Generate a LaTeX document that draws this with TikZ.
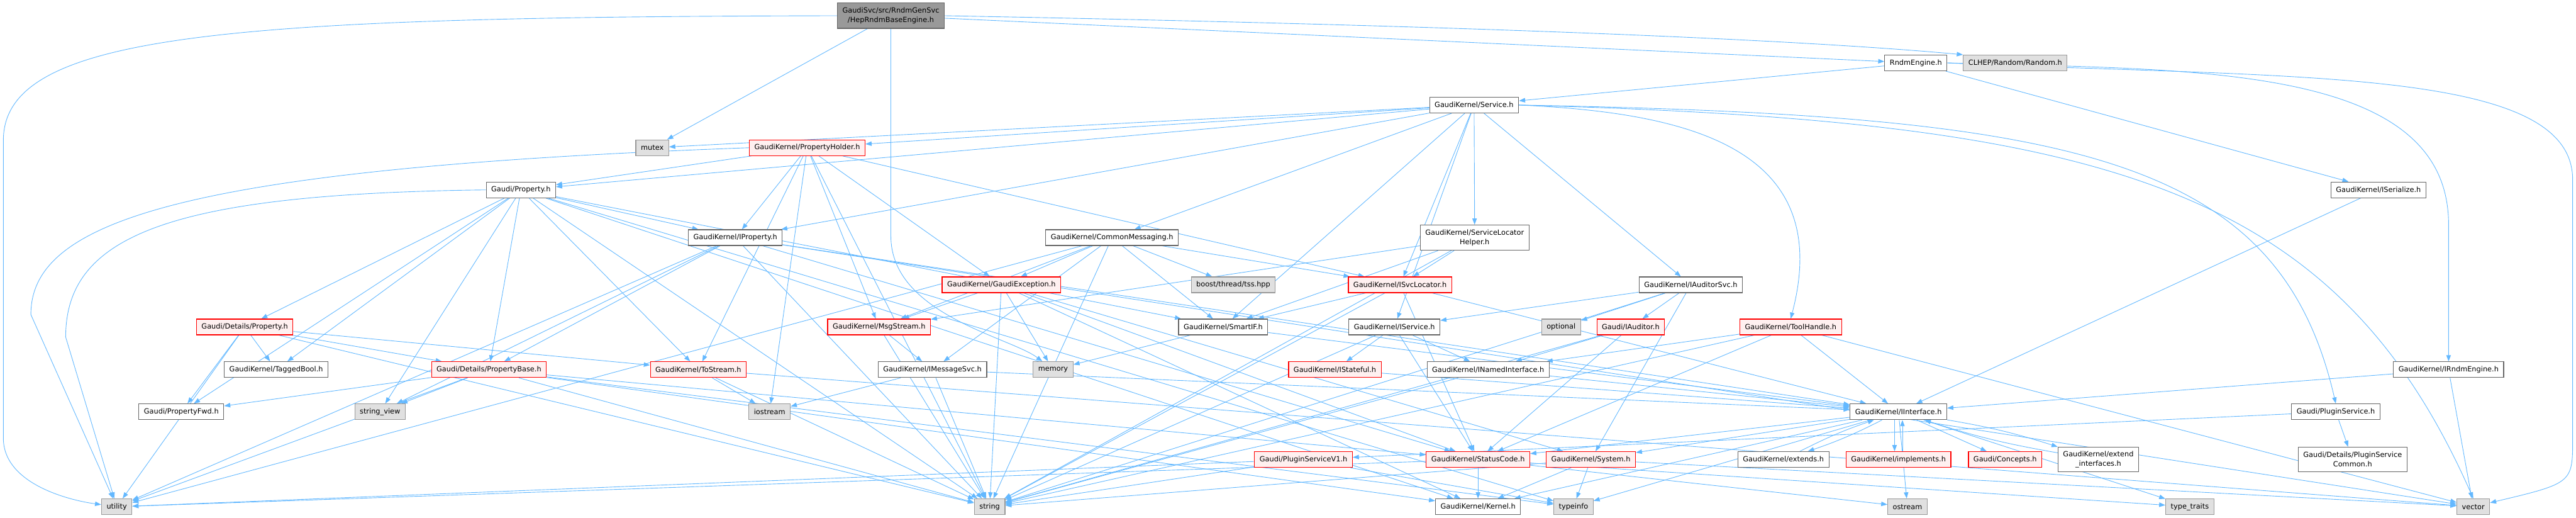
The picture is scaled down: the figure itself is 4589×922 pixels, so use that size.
\documentclass[tikz,border=0pt]{standalone}
\usepackage{fontspec}
\setmainfont{DejaVu Sans}
\usepackage{tikz}
\usetikzlibrary{arrows.meta,backgrounds}
\definecolor{depblue}{HTML}{63B8FF}
\definecolor{boxline}{HTML}{666666}
\definecolor{sysfill}{HTML}{E0E0E0}
\definecolor{sysline}{HTML}{999999}
\definecolor{truncfill}{HTML}{FFF0F0}
\definecolor{rootfill}{HTML}{999999}

\begin{document}
\begin{tikzpicture}[
  hdr/.style={draw=boxline, fill=white, line width=1.3pt, inner xsep=9pt, inner ysep=0pt, minimum height=28pt, font=\fontsize{12.7}{17}\selectfont, align=center},
  sys/.style={hdr, draw=sysline, fill=sysfill},
  trunc/.style={hdr, draw=red, fill=truncfill},
  top/.style={hdr, fill=rootfill, minimum height=45pt},
  dep/.style={draw=depblue, line width=1pt, -{Triangle[length=11pt,width=8pt]}},
  x=1pt, y=-1pt]
\useasboundingbox (0,0) rectangle (4589,922);
\node[top] (root) at (1587,28) {GaudiSvc/src/RndmGenSvc\\/HepRndmBaseEngine.h};
% level 1
\node[hdr] (rndmeng) at (3413,112) {RndmEngine.h};
\node[sys] (clhep)   at (3590,112) {CLHEP/Random/Random.h};
% level 2
\node[hdr] (service) at (2626,187) {GaudiKernel/Service.h};
% level 3
\node[sys]   (mutex)      at (1162,263) {mutex};
\node[trunc] (propholder) at (1438,263) {GaudiKernel/PropertyHolder.h};
\node[hdr]   (gprop)      at (928,338)  {Gaudi/Property.h};
\node[hdr]   (iserialize) at (4237,338) {GaudiKernel/ISerialize.h};
% level 4
\node[hdr] (iproperty) at (1310,423) {GaudiKernel/IProperty.h};
\node[hdr] (commsg)    at (1981,423) {GaudiKernel/CommonMessaging.h};
\node[hdr, minimum height=45pt] (svclochelp) at (2627,423) {GaudiKernel/ServiceLocator\\Helper.h};
% level 5
\node[trunc] (gexc)        at (1784,507) {GaudiKernel/GaudiException.h};
\node[sys]   (tss)         at (2197,507) {boost/thread/tss.hpp};
\node[trunc] (isvcloc)     at (2494,507) {GaudiKernel/ISvcLocator.h};
\node[hdr]   (iauditorsvc) at (3012,507) {GaudiKernel/IAuditorSvc.h};
% level 6
\node[trunc] (detprop)    at (436,582)  {Gaudi/Details/Property.h};
\node[trunc] (msgstream)  at (1566,582) {GaudiKernel/MsgStream.h};
\node[hdr]   (smartif)    at (2179,582) {GaudiKernel/SmartIF.h};
\node[hdr]   (iservice)   at (2484,582) {GaudiKernel/IService.h};
\node[sys]   (optional)   at (2781,582) {optional};
\node[trunc] (iauditor)   at (2905,582) {Gaudi/IAuditor.h};
\node[trunc] (toolhandle) at (3190,582) {GaudiKernel/ToolHandle.h};
% level 7
\node[hdr]   (taggedbool)  at (492,658)  {GaudiKernel/TaggedBool.h};
\node[trunc] (propbase)    at (871,658)  {Gaudi/Details/PropertyBase.h};
\node[trunc] (tostream)    at (1244,658) {GaudiKernel/ToStream.h};
\node[hdr]   (imsgsvc)     at (1661,658) {GaudiKernel/IMessageSvc.h};
\node[sys]   (memory)      at (1876,658) {memory};
\node[trunc] (istateful)   at (2378,658) {GaudiKernel/IStateful.h};
\node[hdr]   (inamed)      at (2651,658) {GaudiKernel/INamedInterface.h};
\node[hdr]   (irndmengine) at (4362,658) {GaudiKernel/IRndmEngine.h};
% level 8
\node[hdr] (propfwd)    at (323,733)  {Gaudi/PropertyFwd.h};
\node[sys] (stringview) at (677,733)  {string\_view};
\node[sys] (iostream)   at (1371,733) {iostream};
\node[hdr] (iinterface) at (3382,733) {GaudiKernel/IInterface.h};
\node[hdr] (pluginsvc)  at (4161,733) {Gaudi/PluginService.h};
% level 9
\node[trunc] (pluginsvcv1) at (2322,818) {Gaudi/PluginServiceV1.h};
\node[trunc] (statuscode)  at (2633,818) {GaudiKernel/StatusCode.h};
\node[trunc] (system)      at (2834,818) {GaudiKernel/System.h};
\node[hdr]   (extends)     at (3177,818) {GaudiKernel/extends.h};
\node[trunc] (implements)  at (3382,818) {GaudiKernel/implements.h};
\node[trunc] (concepts)    at (3572,818) {Gaudi/Concepts.h};
\node[hdr, minimum height=44pt] (extendif) at (3738,818) {GaudiKernel/extend\\\_interfaces.h};
\node[hdr, minimum height=44pt] (pscommon) at (4191,818) {Gaudi/Details/PluginService\\Common.h};
% level 10
\node[sys] (utility)    at (208,902)  {utility};
\node[sys] (string)     at (1763,902) {string};
\node[hdr] (kernel)     at (2633,902) {GaudiKernel/Kernel.h};
\node[sys] (typeinfo)   at (2803,902) {typeinfo};
\node[sys] (ostream)    at (3398,902) {ostream};
\node[sys] (typetraits) at (3901,902) {type\_traits};
\node[sys] (vector)     at (4406,902) {vector};
% edges
\begin{scope}[on background layer]
\foreach \n in {rndmeng,mutex} \draw[dep] (root) -- (\n);
\draw[dep] (root.east) .. controls (2600,45) and (3200,70) .. (clhep.north west);
\draw[dep] (root.south) -- (1587,420) .. controls (1587,560) and (1800,600) .. (memory);
\draw[dep] (root.west) .. controls (400,30) and (6,60) .. (6,250) -- (6,780) .. controls (6,860) and (120,890) .. (utility);
\foreach \n in {service,iserialize} \draw[dep] (rndmeng) -- (\n);
\draw[dep] (rndmeng.east) .. controls (3900,125) and (4362,110) .. (4362,400) -- (irndmengine);
\draw[dep] (rndmeng.east) .. controls (4100,140) and (4583,120) .. (4583,320) -- (4583,780) .. controls (4583,860) .. (vector);
\foreach \n in {mutex,propholder,gprop,iproperty,commsg,smartif,isvcloc,svclochelp,iservice,iauditorsvc}
  \draw[dep] (service) -- (\n);
\draw[dep] (service.east) .. controls (3000,200) and (3271,260) .. (toolhandle.north);
\draw[dep] (service.east) .. controls (3700,205) and (4060,280) .. (pluginsvc.north);
\draw[dep] (service.east) .. controls (3750,215) and (4160,330) .. (vector.north);
\foreach \n in {gprop,tostream,iproperty,iostream,msgstream,isvcloc,gexc,string}
  \draw[dep] (propholder) -- (\n);
\draw[dep] (propholder.west) .. controls (300,300) and (55,400) .. (55,560) -- (utility);
\foreach \n in {propfwd,detprop,taggedbool,stringview,propbase,string,tostream,iproperty,kernel,smartif,typeinfo}
  \draw[dep] (gprop) -- (\n);
\draw[dep] (gprop.west) .. controls (300,345) and (117,420) .. (117,600) -- (utility);
\foreach \n in {propbase,stringview,utility,string,iinterface,statuscode,vector}
  \draw[dep] (iproperty) -- (\n);
\foreach \n in {gexc,imsgsvc,isvcloc,msgstream,smartif,tss,utility,string}
  \draw[dep] (commsg) -- (\n);
\foreach \n in {isvcloc,msgstream,smartif,string}
  \draw[dep] (svclochelp) -- (\n);
\foreach \n in {utility,propfwd,string,taggedbool,propbase,tostream}
  \draw[dep] (detprop) -- (\n);
\foreach \n in {propfwd,stringview,utility,string,kernel,statuscode,typeinfo}
  \draw[dep] (propbase) -- (\n);
\foreach \n in {msgstream,string,memory,statuscode,system,kernel}
  \draw[dep] (gexc) -- (\n);
\foreach \n in {smartif,iinterface,statuscode,string}
  \draw[dep] (isvcloc) -- (\n);
\foreach \n in {iservice,optional,iauditor,system,string}
  \draw[dep] (iauditorsvc) -- (\n);
\foreach \n in {imsgsvc,string} \draw[dep] (msgstream) -- (\n);
\foreach \n in {memory,iinterface} \draw[dep] (smartif) -- (\n);
\foreach \n in {istateful,inamed,statuscode,string} \draw[dep] (iservice) -- (\n);
\foreach \n in {inamed,statuscode,string} \draw[dep] (iauditor) -- (\n);
\foreach \n in {inamed,statuscode,iinterface,string,vector} \draw[dep] (toolhandle) -- (\n);
\foreach \n in {iostream,string,vector} \draw[dep] (tostream) -- (\n);
\foreach \n in {iostream,string,iinterface} \draw[dep] (imsgsvc) -- (\n);
\draw[dep] (istateful) -- (iinterface);
\foreach \n in {iinterface,string} \draw[dep] (inamed) -- (\n);
\foreach \n in {iinterface,vector} \draw[dep] (irndmengine) -- (\n);
\draw[dep] (iserialize) -- (iinterface);
\foreach \n in {pscommon,pluginsvcv1} \draw[dep] (pluginsvc) -- (\n);
\foreach \n in {concepts,kernel,statuscode,system,ostream,typetraits,typeinfo}
  \draw[dep] (iinterface) -- (\n);
\draw[dep] ([xshift=-7pt]iinterface.south) -- ([xshift=-7pt]implements.north);
\draw[dep] ([xshift=7pt]implements.north) -- ([xshift=7pt]iinterface.south);
\draw[dep] (iinterface) to[bend left=4] (extendif);
\draw[dep] (extendif) to[bend left=4] (iinterface);
\draw[dep] (iinterface) to[bend left=4] (extends);
\draw[dep] (extends) to[bend left=4] (iinterface);
\foreach \n in {kernel,ostream,typetraits,utility} \draw[dep] (statuscode) -- (\n);
\foreach \n in {kernel,typeinfo,string,vector} \draw[dep] (system) -- (\n);
\foreach \n in {typeinfo,string,utility} \draw[dep] (pluginsvcv1) -- (\n);
\end{scope}
\end{tikzpicture}
\end{document}
